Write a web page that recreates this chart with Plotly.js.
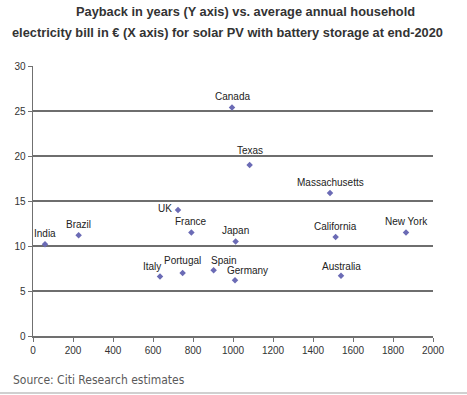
<!DOCTYPE html>
<html><head><meta charset="utf-8">
<script src="https://cdn.plot.ly/plotly-3.0.1.min.js"></script>
<style>html,body{margin:0;padding:0;background:#fff}</style>
</head><body><div id="chart" style="width:467px;height:395px"></div>
<script>
const places = ["India","Brazil","UK","France","Japan","Italy","Portugal","Spain","Germany","Canada","Texas","Massachusetts","California","New York","Australia"];
const bill = [60, 228, 725, 792, 1013, 635, 748, 903, 1010, 995, 1083, 1485, 1513, 1865, 1540];
const payback = [10.2, 11.2, 14.0, 11.5, 10.5, 6.6, 7.0, 7.3, 6.2, 25.4, 19.0, 15.9, 11.0, 11.5, 6.7];
const xTicks = [0,200,400,600,800,1000,1200,1400,1600,1800,2000];
const yTicks = [0,5,10,15,20,25,30];

// label placement (pixel offsets from the marker)
const labelShift = {
  "India":[0,11],"Brazil":[0,11],"UK":[-13,2],"France":[0,10.6],"Japan":[0,10.7],
  "Italy":[-8,10],"Portugal":[0,12.7],"Spain":[10,10],"Germany":[12.7,9.6],
  "Canada":[0,10.6],"Texas":[0,15],"Massachusetts":[0,10.7],"California":[0,11],
  "New York":[0,11],"Australia":[0,9.3]
};

const FONT = "Liberation Sans, Arial, sans-serif";
const annotations = places.map((p,i)=>({
  x: bill[i], y: payback[i], xref:'x', yref:'y', text:p, showarrow:false,
  xanchor:'center', yanchor:'middle', xshift: labelShift[p][0], yshift: labelShift[p][1],
  font:{family:FONT, size:10, color:'#222'}
}));
annotations.push({
  xref:'paper', yref:'paper', x:0.532, y:1.2037, xanchor:'center', yanchor:'middle', showarrow:false,
  text:'<b>Payback in years (Y axis) vs. average annual household</b>',
  font:{family:FONT, size:12.8, color:'#333'}
});
annotations.push({
  xref:'paper', yref:'paper', x:0.4868, y:1.1259, xanchor:'center', yanchor:'middle', showarrow:false,
  text:'<b>electricity bill in € (X axis) for solar PV with battery storage at end-2020</b>',
  font:{family:FONT, size:12.8, color:'#333'}
});
annotations.push({
  xref:'paper', yref:'paper', x:-0.056, y:-0.163, xanchor:'left', yanchor:'middle', showarrow:false,
  text:'Source: Citi Research estimates',
  font:{family:"DejaVu Sans Condensed, sans-serif", size:12, color:'#5a5a5a'}
});

const trace = {
  x: bill, y: payback, text: places, type:'scatter', mode:'markers',
  marker:{symbol:'diamond', size:5, color:'#6b6bb5'}, hoverinfo:'text'
};

const layout = {
  width:467, height:395,
  margin:{l:33, r:34, t:66, b:59},
  paper_bgcolor:'#fff', plot_bgcolor:'#fff',
  showlegend:false,
  xaxis:{range:[0,2000], tickvals:xTicks, ticktext:xTicks.map(String), showgrid:false, zeroline:false,
    showline:true, linecolor:'#707070', linewidth:1.5, ticks:'outside', ticklen:4, tickcolor:'#707070',
    tickfont:{family:FONT, size:10, color:'#333'}},
  yaxis:{range:[0,30], tickvals:yTicks, ticktext:yTicks.map(String), showgrid:true, gridcolor:'#6e6e6e', gridwidth:1.3,
    zeroline:false, showline:true, linecolor:'#707070', linewidth:1.5, ticks:'outside', ticklen:4, tickcolor:'#707070',
    tickfont:{family:FONT, size:10, color:'#333'}},
  annotations: annotations,
  shapes:[{type:'line', xref:'paper', yref:'paper', x0:-0.0825, x1:1.085, y0:-0.211, y1:-0.211,
    line:{color:'#d0d0d0', width:2}}]
};

Plotly.newPlot('chart',[trace],layout,{displayModeBar:false, staticPlot:true});
</script></body></html>
